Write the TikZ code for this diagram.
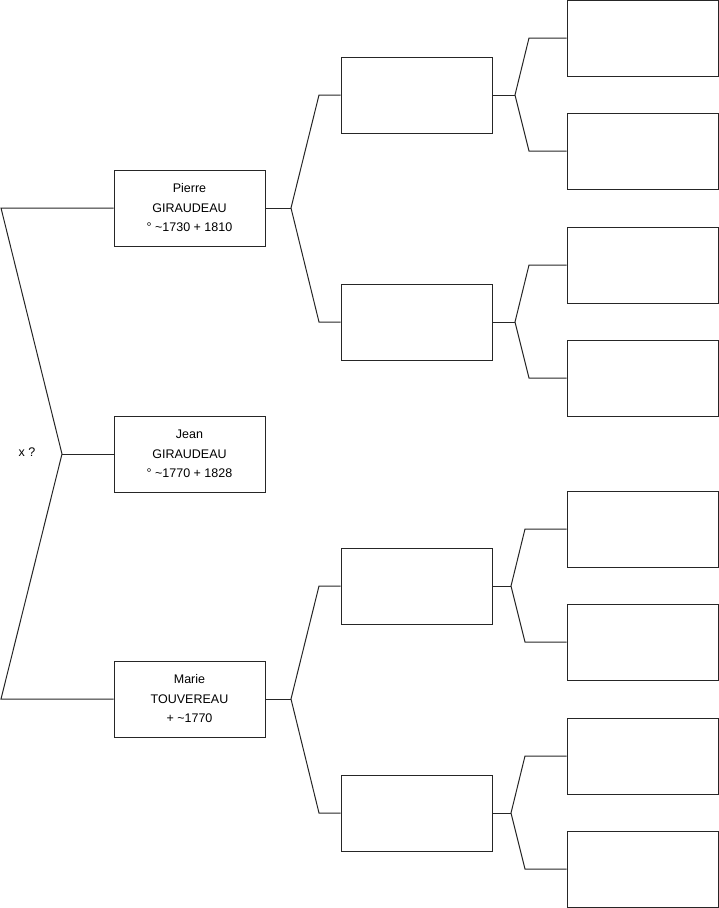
\documentclass[tikz,border=0pt]{standalone}
\usepackage{fontspec}
\setmainfont{Liberation Sans}
\begin{document}
\begin{tikzpicture}[x=1pt,y=-1pt,
  pbox/.style={draw=black!85, line width=1pt, minimum width=151pt, minimum height=76pt,
    inner sep=0pt, align=center, font=\fontsize{12.5}{19.5}\selectfont},
  link/.style={draw=black!85, line width=1pt, line join=miter}]
\useasboundingbox (0,0) rectangle (719,908);
% generation 1
\node[pbox] (p) at (189.5,208) {Pierre\\GIRAUDEAU\\° \textasciitilde1730 + 1810};
\node[pbox] (j) at (189.5,454) {Jean\\GIRAUDEAU\\° \textasciitilde1770 + 1828};
\node[pbox] (m) at (189.5,699) {Marie\\TOUVEREAU\\+ \textasciitilde1770};
% generation 2
\node[pbox] (p1) at (416.5,95) {};
\node[pbox] (p2) at (416.5,322) {};
\node[pbox] (m1) at (416.5,586) {};
\node[pbox] (m2) at (416.5,813) {};
% generation 3
\node[pbox] (a) at (642.5,38) {};
\node[pbox] (b) at (642.5,151) {};
\node[pbox] (c) at (642.5,265) {};
\node[pbox] (d) at (642.5,378) {};
\node[pbox] (e) at (642.5,529) {};
\node[pbox] (f) at (642.5,642) {};
\node[pbox] (g) at (642.5,756) {};
\node[pbox] (h) at (642.5,869) {};
% marriage bracket
\coordinate (lt) at (1,208);
\coordinate (lj) at (62,454);
\coordinate (lb) at (1,699);
\draw[link] (p.west) -- (lt) -- (lj) -- (lb) -- (m.west);
\draw[link] (lj) -- (j.west);
\node[font=\fontsize{12.5}{15}\selectfont] (x) at (27,452) {x ?};
% Pierre's parents
\coordinate (jp) at (291,208);
\coordinate (jp1) at (319,95);
\coordinate (jp2) at (319,322);
\draw[link] (p.east) -- (jp);
\draw[link] (p1.west) -- (jp1) -- (jp) -- (jp2) -- (p2.west);
% Marie's parents
\coordinate (jm) at (291,699);
\coordinate (jm1) at (319,586);
\coordinate (jm2) at (319,813);
\draw[link] (m.east) -- (jm);
\draw[link] (m1.west) -- (jm1) -- (jm) -- (jm2) -- (m2.west);
% generation 3 brackets
\coordinate (k1) at (515,95);
\coordinate (k1a) at (529,38);
\coordinate (k1b) at (529,151);
\draw[link] (p1.east) -- (k1);
\draw[link] (a.west) -- (k1a) -- (k1) -- (k1b) -- (b.west);
\coordinate (k2) at (515,322);
\coordinate (k2a) at (529,265);
\coordinate (k2b) at (529,378);
\draw[link] (p2.east) -- (k2);
\draw[link] (c.west) -- (k2a) -- (k2) -- (k2b) -- (d.west);
\coordinate (k3) at (511,586);
\coordinate (k3a) at (525,529);
\coordinate (k3b) at (525,642);
\draw[link] (m1.east) -- (k3);
\draw[link] (e.west) -- (k3a) -- (k3) -- (k3b) -- (f.west);
\coordinate (k4) at (511,813);
\coordinate (k4a) at (525,756);
\coordinate (k4b) at (525,869);
\draw[link] (m2.east) -- (k4);
\draw[link] (g.west) -- (k4a) -- (k4) -- (k4b) -- (h.west);
\end{tikzpicture}
\end{document}
